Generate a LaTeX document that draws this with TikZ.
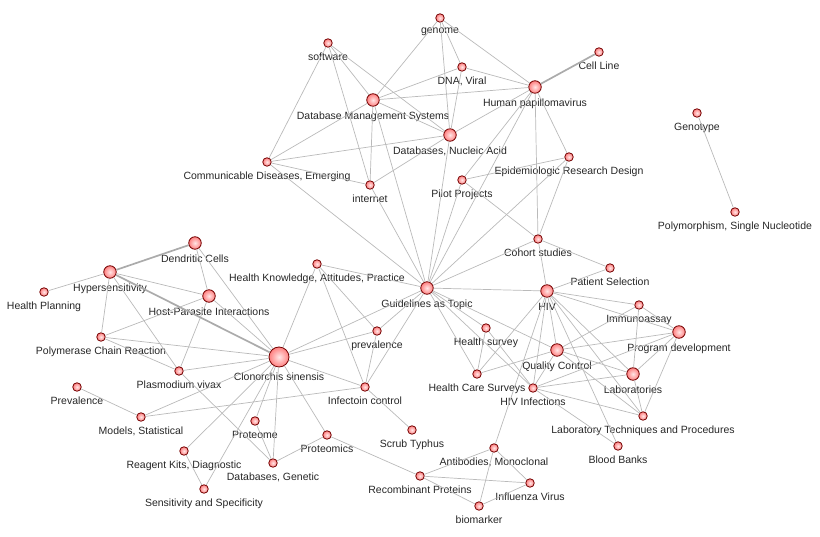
\documentclass[tikz,border=0pt]{standalone}
\usepackage{fontspec}
\setmainfont{Liberation Sans}

\tikzset{every picture/.style={x=1pt, y=-1pt, label distance=4.5pt},
        every label/.style={inner sep=1pt, text=black!85, font=\fontsize{10.5}{12.5}\selectfont},
        termNode/.style={circle, draw=red!45!black, line width=0.8pt, inner color=red!10, outer color=red!50, inner sep=0pt, minimum size=#1},
        arc/.style={draw=black!27, line width=0.7pt},
        heavyArc/.style={draw=black!33, line width=1.7pt}}

\begin{document}
\begin{tikzpicture}

\useasboundingbox (0,0) rectangle (820,537);

% draw small nodes
\foreach \n/\x/\y/\t in {genome/440/18/genome, software/328/43/software, dnaviral/462/67/{DNA, Viral},
    cellline/599/52/{Cell Line}, epid/569/157/{Epidemiologic Research Design},
    commdis/267/162/{Communicable Diseases, Emerging}, internet/370/185/internet, pilot/462/180/{Pilot Projects},
    genotype/697/113/Genotype, snp/735/212/{Polymorphism, Single Nucleotide}, cohort/538/239/{Cohort studies},
    healthknow/317/264/{Health Knowledge, Attitudes, Practice}, patient/610/268/{Patient Selection},
    planning/44/292/{Health Planning}, immuno/639/305/Immunoassay, prevlow/377/331/prevalence,
    survey/486/328/{Health survey}, pcr/101/337/{Polymerase Chain Reaction}, plasmodium/179/371/{Plasmodium vivax},
    hcsurveys/477/374/{Health Care Surveys}, hivinf/533/388/{HIV Infections}, infect/365/387/{Infectoin control},
    prevup/77/387/Prevalence, models/141/417/{Models, Statistical}, proteome/255/421/Proteome,
    labtech/643/416/{Laboratory Techniques and Procedures}, scrub/412/430/{Scrub Typhus},
    proteomics/327/435/Proteomics, bloodbanks/618/446/{Blood Banks}, antibodies/494/448/{Antibodies, Monoclonal},
    reagent/184/451/{Reagent Kits, Diagnostic}, dbgenetic/273/463/{Databases, Genetic},
    recombinant/420/476/{Recombinant Proteins}, influenza/530/483/{Influenza Virus},
    sensitivity/204/489/{Sensitivity and Specificity}, biomarker/479/506/biomarker} {
    \node[termNode=8.5pt, label=below:\t] (\n) at (\x,\y) {};
}

% draw bigger nodes
\foreach \n/\x/\y/\t in {hpv/535/87/{Human papillomavirus}, dms/373/100/{Database Management Systems},
    dbna/450/135/{Databases, Nucleic Acid}, dendritic/195/243/{Dendritic Cells}, hyper/110/272/Hypersensitivity,
    hostpar/209/296/{Host-Parasite Interactions}, guidelines/427/288/{Guidelines as Topic}, hiv/547/291/HIV,
    qc/557/350/{Quality Control}, labs/633/374/Laboratories, progdev/679/332/{Program development}} {
    \node[termNode=12.5pt, label=below:\t] (\n) at (\x,\y) {};
}

\node[termNode=20pt, label=below:{Clonorchis sinensis}] (clonorchis) at (279,357) {};

% draw necessary paths
\foreach \a/\b in {software/commdis, software/dms, software/internet, software/dbna,
    genome/dms, genome/dnaviral, genome/hpv, genome/dbna, dnaviral/dms, dnaviral/hpv, dnaviral/dbna,
    hpv/dms, hpv/dbna, hpv/epid, hpv/pilot, hpv/guidelines, hpv/cohort,
    dms/dbna, dms/commdis, dms/internet, dms/guidelines, commdis/dbna, commdis/internet, commdis/guidelines,
    internet/dbna, internet/guidelines, dbna/guidelines, epid/pilot, epid/cohort, epid/guidelines,
    pilot/cohort, pilot/guidelines, genotype/snp, cohort/guidelines, cohort/patient, cohort/hiv, patient/hiv,
    dendritic/hostpar, dendritic/clonorchis, hyper/planning, hyper/hostpar, hyper/pcr, hyper/plasmodium,
    hostpar/pcr, hostpar/plasmodium, hostpar/clonorchis, pcr/clonorchis, pcr/plasmodium,
    plasmodium/clonorchis, plasmodium/dbgenetic, prevup/models, models/clonorchis, models/infect,
    clonorchis/reagent, clonorchis/sensitivity, clonorchis/proteome, clonorchis/dbgenetic, clonorchis/proteomics,
    clonorchis/guidelines, clonorchis/prevlow, clonorchis/infect, clonorchis/healthknow,
    reagent/sensitivity, proteome/dbgenetic, dbgenetic/proteomics, proteomics/recombinant,
    healthknow/guidelines, healthknow/prevlow, healthknow/infect, guidelines/prevlow, guidelines/infect,
    guidelines/survey, guidelines/hcsurveys, guidelines/hiv, guidelines/qc, guidelines/hivinf,
    prevlow/infect, infect/scrub, hiv/immuno, hiv/progdev, hiv/qc, hiv/labs, hiv/labtech, hiv/bloodbanks,
    hiv/hivinf, hiv/hcsurveys, hiv/antibodies, survey/hivinf, survey/hcsurveys, hcsurveys/qc,
    qc/immuno, qc/progdev, qc/labs, qc/labtech, qc/hivinf, immuno/progdev, immuno/labs,
    progdev/labs, progdev/labtech, progdev/hivinf, labs/hivinf, labs/labtech, hivinf/labtech, hivinf/bloodbanks,
    antibodies/recombinant, antibodies/influenza, antibodies/biomarker, recombinant/influenza,
    recombinant/biomarker, influenza/biomarker} {
    \draw[arc] (\a) -- (\b);
}

% heavier links
\draw[heavyArc] (hpv) -- (cellline);
\draw[heavyArc] (hyper) -- (clonorchis);
\draw[heavyArc] (hyper) -- (dendritic);

\end{tikzpicture}
\end{document}
